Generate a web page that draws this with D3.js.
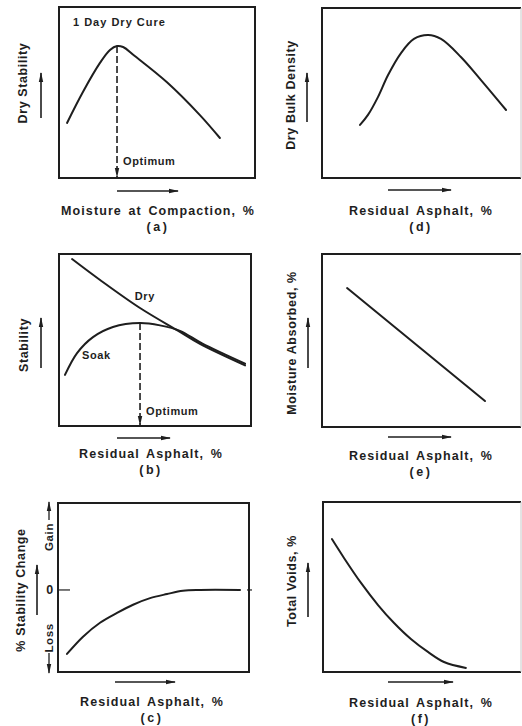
<!DOCTYPE html>
<html>
<head>
<meta charset="utf-8">
<script src="https://cdn.jsdelivr.net/npm/d3@7"></script>
<style>
  body { margin: 0; background: #fff; }
  text { font-family: "Liberation Sans", Arial, sans-serif; font-weight: bold; fill: #1e1e1e; letter-spacing: 0.6px; }
  .xtitle { letter-spacing: 1.1px; word-spacing: 2px; }
</style>
</head>
<body>
<svg id="chart" width="522" height="726"></svg>
<script>
// Schematic curves: x runs 0-100 across each frame, y 0-100 up the frame
// (panel c uses -1..1.06 so that 0 sits at the "0" mark)

// (a) dry stability vs moisture at compaction
const aMoisture = [4.1, 12.2, 20.9, 26.0, 29.6, 32.7, 38.5, 55.1, 71.9, 82.1];
const aDryStability = [32.2, 50.3, 67.3, 74.9, 77.2, 76.6, 71.5, 56.0, 36.8, 23.4];
const aOptimum = 29.6;

// (b) stability vs residual asphalt, dry and soaked
const bDryAsphalt = [6.8, 21.4, 42.2, 63.0, 73.4, 96.9];
const bDryStability = [97.1, 84.9, 68.6, 54.7, 47.7, 35.2];
const bSoakAsphalt = [3.1, 9.4, 17.7, 28.1, 42.2, 52.6, 63.0, 74.5, 96.9];
const bSoakStability = [29.7, 42.4, 51.7, 57.6, 59.9, 58.5, 55.3, 48.0, 36.2];
const bOptimum = 42.2;

// (c) % stability change vs residual asphalt
const cAsphalt = [4.7, 13.1, 22.0, 30.9, 39.3, 48.2, 57.1, 65.4, 74.3, 95.3];
const cChange = [-0.78, -0.57, -0.40, -0.28, -0.18, -0.10, -0.05, -0.01, 0.0, 0.0];

// (d) dry bulk density vs residual asphalt
const dAsphalt = [19.1, 23.1, 28.1, 33.2, 39.7, 46.2, 53.3, 59.8, 69.8, 79.9, 92.5];
const dDensity = [31.2, 37.1, 47.6, 60.6, 73.5, 81.8, 84.1, 81.8, 71.2, 57.6, 40.0];

// (e) moisture absorbed vs residual asphalt
const eAsphalt = [12.6, 81.9];
const eMoisture = [80.3, 15.0];

// (f) total voids vs residual asphalt
const fAsphalt = [4.5, 10.6, 19.2, 27.8, 35.9, 44.4, 53.0, 61.1, 72.2];
const fVoids = [78.2, 67.1, 52.4, 39.4, 28.8, 19.4, 11.8, 5.9, 2.4];

const panelTags = ['(a)', '(b)', '(c)', '(d)', '(e)', '(f)'];
const yTitles = ['Dry Stability', 'Stability', '% Stability Change',
  'Dry Bulk Density', 'Moisture Absorbed, %', 'Total Voids, %'];
const xTitles = ['Moisture at Compaction, %', 'Residual Asphalt, %', 'Residual Asphalt, %',
  'Residual Asphalt, %', 'Residual Asphalt, %', 'Residual Asphalt, %'];

const ink = '#1e1e1e';
const svg = d3.select('#chart');

const defs = svg.append('defs');
defs.append('marker')
  .attr('id', 'head')
  .attr('viewBox', '0 0 10 6')
  .attr('refX', 9).attr('refY', 3)
  .attr('markerWidth', 10).attr('markerHeight', 6)
  .attr('markerUnits', 'userSpaceOnUse')
  .attr('orient', 'auto')
  .append('path')
  .attr('d', 'M0,0.8L10,3L0,5.2Z')
  .attr('fill', ink);

// frame boxes and label spots for each panel
const layout = [
  { x0: 59, x1: 255, y0: 7, y1: 178, yTitle: [27, 83], yArrow: [41, 118, 73], xArrow: [117, 178, 191], xTitle: [158, 215] },
  { x0: 59, x1: 251, y0: 254, y1: 426, yTitle: [28, 345], yArrow: [41, 368, 318], xArrow: [117, 170, 438], xTitle: [151, 458] },
  { x0: 58, x1: 249, y0: 503, y1: 672, yTitle: [25, 590], yArrow: [37, 615, 565], xArrow: [115, 175, 682], xTitle: [152, 706] },
  { x0: 322, x1: 521, y0: 8, y1: 178, yTitle: [295, 95], yArrow: [307, 122, 73], xArrow: [388, 451, 190], xTitle: [421, 215] },
  { x0: 322, x1: 521, y0: 254, y1: 427, yTitle: [296, 343], yArrow: [308, 368, 318], xArrow: [388, 451, 437], xTitle: [421, 460] },
  { x0: 323, x1: 521, y0: 502, y1: 672, yTitle: [296, 581], yArrow: [308, 617, 563], xArrow: [388, 453, 682], xTitle: [421, 707] }
];

const scales = layout.map((p, i) => ({
  x: d3.scaleLinear().domain([0, 100]).range([p.x0, p.x1]),
  y: d3.scaleLinear().domain(i === 2 ? [-1, 1.06] : [0, 100]).range([p.y1, p.y0])
}));

layout.forEach((p, i) => {
  const g = svg.append('g');
  const rightCol = i >= 3;

  // frame: right column is cut at the page edge, leaving a faint line
  g.append('path')
    .attr('d', rightCol
      ? `M${p.x1},${p.y0}H${p.x0}V${p.y1}H${p.x1}`
      : `M${p.x0},${p.y0}H${p.x1}V${p.y1}H${p.x0}Z`)
    .attr('fill', 'none').attr('stroke', ink).attr('stroke-width', 2);
  if (rightCol) {
    g.append('line')
      .attr('x1', p.x1).attr('x2', p.x1).attr('y1', p.y0).attr('y2', p.y1)
      .attr('stroke', '#c8c8c8').attr('stroke-width', 1);
  }

  // y title + upward arrow
  g.append('text')
    .attr('transform', `translate(${p.yTitle[0]},${p.yTitle[1]}) rotate(-90)`)
    .attr('text-anchor', 'middle')
    .style('font-size', '12.5px')
    .text(yTitles[i]);
  g.append('line')
    .attr('x1', p.yArrow[0]).attr('x2', p.yArrow[0])
    .attr('y1', p.yArrow[1]).attr('y2', p.yArrow[2])
    .attr('stroke', ink).attr('stroke-width', 1.6)
    .attr('marker-end', 'url(#head)');

  // x arrow + title + tag
  g.append('line')
    .attr('x1', p.xArrow[0]).attr('x2', p.xArrow[1])
    .attr('y1', p.xArrow[2]).attr('y2', p.xArrow[2])
    .attr('stroke', ink).attr('stroke-width', 1.3)
    .attr('marker-end', 'url(#head)');
  g.append('text')
    .attr('class', 'xtitle')
    .attr('x', p.xTitle[0]).attr('y', p.xTitle[1])
    .attr('text-anchor', 'middle')
    .style('font-size', '12.5px')
    .text(xTitles[i]);
  g.append('text')
    .attr('x', p.xTitle[0]).attr('y', p.xTitle[1] + 16)
    .attr('text-anchor', 'middle')
    .style('font-size', '12.5px')
    .style('letter-spacing', '2.5px')
    .text(panelTags[i]);
});

function curve(i, xs, ys) {
  const s = scales[i];
  const line = d3.line()
    .x(d => s.x(d[0]))
    .y(d => s.y(d[1]))
    .curve(d3.curveCatmullRom.alpha(0.5));
  svg.append('path')
    .datum(d3.zip(xs, ys))
    .attr('d', line)
    .attr('fill', 'none')
    .attr('stroke', ink)
    .attr('stroke-width', 2)
    .attr('stroke-linecap', 'round');
}

function optimum(i, xVal, yVal, labelDy) {
  const s = scales[i];
  const x = s.x(xVal);
  svg.append('line')
    .attr('x1', x).attr('x2', x)
    .attr('y1', s.y(yVal)).attr('y2', s.y.range()[0] - 1)
    .attr('stroke', ink).attr('stroke-width', 1.6)
    .attr('stroke-dasharray', '7,3')
    .attr('marker-end', 'url(#head)');
  svg.append('text')
    .attr('x', x + 6).attr('y', s.y.range()[0] + labelDy)
    .style('font-size', '11px')
    .text('Optimum');
}

// (a)
curve(0, aMoisture, aDryStability);
optimum(0, aOptimum, d3.max(aDryStability), -13);
svg.append('text')
  .attr('x', layout[0].x0 + 14).attr('y', layout[0].y0 + 19)
  .style('font-size', '11px')
  .style('letter-spacing', '1px')
  .text('1 Day Dry Cure');

// (b)
curve(1, bDryAsphalt, bDryStability);
curve(1, bSoakAsphalt, bSoakStability);
optimum(1, bOptimum, d3.max(bSoakStability), -11);
svg.append('text')
  .attr('x', scales[1].x(39.5)).attr('y', scales[1].y(73.5))
  .style('font-size', '11px').text('Dry');
svg.append('text')
  .attr('x', scales[1].x(12)).attr('y', scales[1].y(39))
  .style('font-size', '11px').text('Soak');

// (c)
curve(2, cAsphalt, cChange);
{
  const s = scales[2], p = layout[2];
  const y0 = s.y(0);
  svg.append('line').attr('x1', p.x0).attr('x2', p.x0 + 12).attr('y1', y0).attr('y2', y0)
    .attr('stroke', ink).attr('stroke-width', 1.2);
  svg.append('line').attr('x1', p.x1 - 2).attr('x2', p.x1 + 3).attr('y1', y0).attr('y2', y0)
    .attr('stroke', ink).attr('stroke-width', 1.2);
  svg.append('text')
    .attr('x', 50).attr('y', y0 + 4.5)
    .attr('text-anchor', 'middle')
    .style('font-size', '12.5px')
    .text('0');
  svg.append('text')
    .attr('transform', `translate(53,${y0 - 53}) rotate(-90)`)
    .attr('text-anchor', 'middle')
    .style('font-size', '11.5px')
    .text('Gain');
  svg.append('text')
    .attr('transform', `translate(53,${y0 + 48}) rotate(-90)`)
    .attr('text-anchor', 'middle')
    .style('font-size', '11.5px')
    .text('Loss');
  svg.append('line').attr('x1', 49).attr('x2', 49).attr('y1', y0 - 70).attr('y2', p.y0 - 1)
    .attr('stroke', ink).attr('stroke-width', 1.3).attr('marker-end', 'url(#head)');
  svg.append('line').attr('x1', 49).attr('x2', 49).attr('y1', y0 + 63).attr('y2', p.y1 + 1)
    .attr('stroke', ink).attr('stroke-width', 1.3).attr('marker-end', 'url(#head)');
}

// (d), (e), (f)
curve(3, dAsphalt, dDensity);
curve(4, eAsphalt, eMoisture);
curve(5, fAsphalt, fVoids);
</script>
</body>
</html>
